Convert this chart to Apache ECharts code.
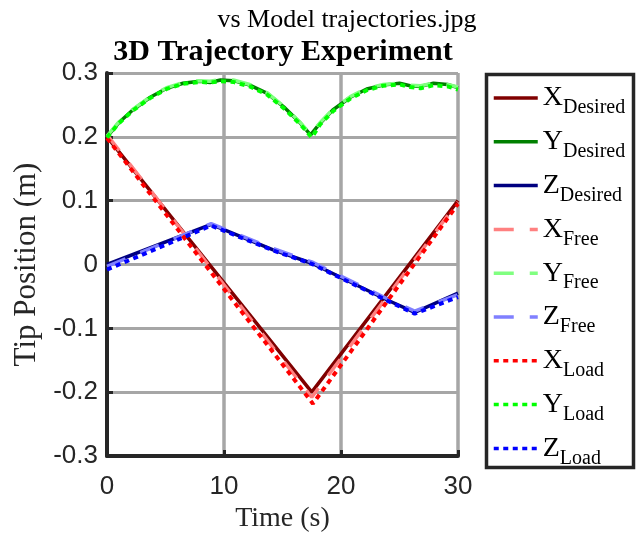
<!DOCTYPE html>
<html><head><meta charset="utf-8">
<script src="https://cdn.jsdelivr.net/npm/echarts@6/dist/echarts.min.js"></script>
<style>html,body{margin:0;padding:0;background:#fff}#c{width:640px;height:533px}</style>
</head><body><div id="c"></div>
<script>
// ---- axis ticks ----
const xTicks = [0, 10, 20, 30];
const yTicks = [-0.3, -0.2, -0.1, 0, 0.1, 0.2, 0.3];

// ---- series names ----
const seriesNames = ['X Desired','Y Desired','Z Desired','X Free','Y Free','Z Free','X Load','Y Load','Z Load'];

// ---- X component (time s, position m) ----
const xDesiredT = [0, 17.5, 30];
const xDesiredV = [0.200, -0.200, 0.100];
const xFreeT = [0, 17.5, 30];
const xFreeV = [0.203, -0.208, 0.098];
const xLoadT = [0, 17.6, 30];
const xLoadV = [0.198, -0.218, 0.095];

// ---- Y component ----
const yDesiredT = [0, 1, 2.2, 3.7, 5.1, 6.5, 7.9, 8.8, 9.7, 10.8, 12.2, 13.7, 15.1, 16.5, 17.4, 18.2, 19.3, 20.8, 22.2, 23.6, 25.0, 25.9, 26.8, 27.9, 29.1, 30];
const yDesiredV = [0.200, 0.222, 0.242, 0.262, 0.276, 0.284, 0.287, 0.285, 0.289, 0.288, 0.281, 0.268, 0.247, 0.222, 0.203, 0.221, 0.242, 0.262, 0.275, 0.281, 0.284, 0.280, 0.279, 0.284, 0.282, 0.277];
const yFreeT = [0, 1, 2.2, 3.7, 5.1, 6.5, 7.9, 8.8, 9.7, 10.8, 12.2, 13.7, 15.1, 16.5, 17.4, 18.2, 19.3, 20.8, 22.2, 23.6, 25.0, 25.9, 26.8, 27.9, 29.1, 30];
const yFreeV = [0.201, 0.223, 0.243, 0.263, 0.277, 0.285, 0.288, 0.287, 0.290, 0.289, 0.282, 0.269, 0.248, 0.223, 0.204, 0.222, 0.243, 0.263, 0.276, 0.282, 0.284, 0.281, 0.280, 0.284, 0.282, 0.278];
const yLoadT = [0, 1, 2.2, 3.7, 5.1, 6.5, 7.9, 8.8, 9.7, 10.8, 12.2, 13.7, 15.1, 16.5, 17.5, 18.2, 19.3, 20.8, 22.2, 23.6, 25.0, 25.9, 26.8, 27.9, 29.1, 30];
const yLoadV = [0.199, 0.221, 0.241, 0.261, 0.275, 0.283, 0.286, 0.285, 0.287, 0.286, 0.279, 0.266, 0.245, 0.220, 0.199, 0.219, 0.240, 0.260, 0.273, 0.280, 0.282, 0.278, 0.276, 0.281, 0.279, 0.274];

// ---- Z component ----
const zDesiredT = [0, 8.9, 14.2, 17.5, 24.0, 26.3, 30];
const zDesiredV = [0.000, 0.063, 0.023, 0.002, -0.056, -0.075, -0.045];
const zFreeT = [0, 8.9, 14.2, 17.5, 24.0, 26.3, 30];
const zFreeV = [-0.003, 0.064, 0.025, 0.004, -0.054, -0.073, -0.047];
const zLoadT = [0, 8.9, 14.2, 17.5, 24.0, 26.3, 30];
const zLoadV = [-0.008, 0.061, 0.022, 0.001, -0.057, -0.077, -0.051];

const zip = (t, v) => t.map((ti, i) => [ti, v[i]]);

const SERIF = '"Liberation Serif","Times New Roman",serif';
const SANS = '"Liberation Sans",Arial,sans-serif';
const AX = '#262626';

const solid = 'solid', dashed = [20, 16], dotted = [5, 4.5];
const defs = [
  [xDesiredT, xDesiredV, '#800000', solid, 3.5],
  [yDesiredT, yDesiredV, '#008000', solid, 3.5],
  [zDesiredT, zDesiredV, '#000080', solid, 3.5],
  [xFreeT, xFreeV, '#ff8080', dashed, 3.5],
  [yFreeT, yFreeV, '#80ff80', dashed, 3.5],
  [zFreeT, zFreeV, '#8080ff', dashed, 3.5],
  [xLoadT, xLoadV, '#ff0000', dotted, 4],
  [yLoadT, yLoadV, '#00ff00', dotted, 4],
  [zLoadT, zLoadV, '#0000ff', dotted, 4]
];

const series = defs.map((d, i) => ({
  name: seriesNames[i],
  type: 'line',
  data: zip(d[0], d[1]),
  symbol: 'none',
  showSymbol: false,
  color: d[2],
  lineStyle: { color: d[2], type: d[3], width: d[4] },
  z: 2 + i
}));

const chart = echarts.init(document.getElementById('c'), null, { renderer: 'canvas' });
chart.setOption({
  animation: false,
  backgroundColor: '#fff',
  grid: { left: 107, right: 182, top: 73, bottom: 77, containLabel: false, outerBoundsMode: 'none' },
  xAxis: {
    type: 'value',
    min: xTicks[0], max: xTicks[xTicks.length - 1], interval: xTicks[1] - xTicks[0],
    name: 'Time (s)', nameLocation: 'middle', nameGap: 48,
    nameTextStyle: { fontFamily: SERIF, fontSize: 28, color: AX },
    axisLine: { show: true, onZero: false, lineStyle: { color: AX, width: 4 } },
    axisTick: { show: true, inside: true, length: 6, lineStyle: { color: AX, width: 3 } },
    axisLabel: { fontFamily: SANS, fontSize: 26, color: AX, margin: 18 },
    splitLine: { show: true, lineStyle: { color: '#a6a6a6', width: 3.5 } }
  },
  yAxis: {
    type: 'value',
    min: yTicks[0], max: yTicks[yTicks.length - 1], interval: 0.1,
    name: 'Tip Position (m)', nameLocation: 'middle', nameGap: 50,
    nameTextStyle: { fontFamily: SERIF, fontSize: 31, color: AX },
    axisLine: { show: true, onZero: false, lineStyle: { color: AX, width: 4 } },
    axisTick: { show: true, inside: true, length: 6, lineStyle: { color: AX, width: 3 } },
    axisLabel: { fontFamily: SANS, fontSize: 26, color: AX, margin: 9 },
    splitLine: { show: true, lineStyle: { color: '#a6a6a6', width: 3 } }
  },
  legend: {
    orient: 'vertical', left: 492, top: 78, padding: 0,
    itemWidth: 44, itemHeight: 14, itemGap: 3.8,
    selectedMode: false,
    itemStyle: { opacity: 0, borderWidth: 0 },
    lineStyle: { width: 3.5 },
    data: seriesNames,
    formatter: n => { const p = n.split(' '); return '{a|' + p[0] + '}{b|' + p[1] + '}'; },
    textStyle: {
      fontFamily: SERIF, fontSize: 28, color: '#000',
      rich: {
        a: { fontFamily: SERIF, fontSize: 28, lineHeight: 28, color: '#000' },
        b: { fontFamily: SERIF, fontSize: 20, lineHeight: 20, color: '#000', padding: [20, 0, 0, 0] }
      }
    }
  },
  graphic: [
    { type: 'rect', silent: true, shape: { x: 486.5, y: 74.5, width: 147, height: 393 },
      style: { fill: 'none', stroke: AX, lineWidth: 3.5 } },
    { type: 'text', silent: true, x: 283, y: 52,
      style: { text: '3D Trajectory Experiment', font: 'bold 30px ' + SERIF, align: 'center', verticalAlign: 'middle', fill: '#000' } },
    { type: 'text', silent: true, x: 347, y: 20,
      style: { text: 'vs Model trajectories.jpg', font: '26px ' + SERIF, align: 'center', verticalAlign: 'middle', fill: '#000' } }
  ],
  series: series
});
</script>
</body></html>
